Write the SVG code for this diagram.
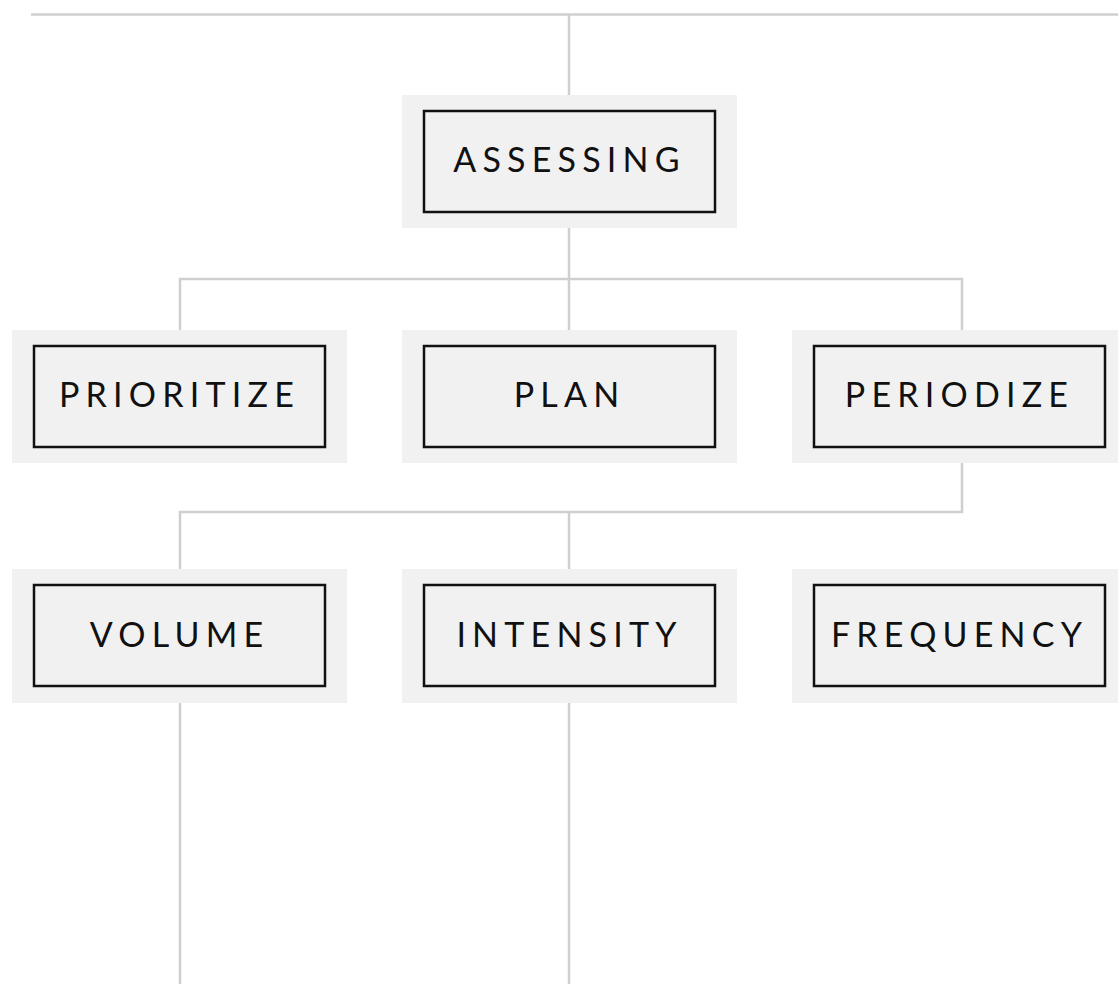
<svg xmlns="http://www.w3.org/2000/svg" width="1118" height="984" viewBox="0 0 1118 984">
<style>
.bg{fill:#f1f1f1}
.box{fill:#f1f1f1;stroke:#111;stroke-width:2.5}
.lbl{font-family:Lato,"Liberation Sans",sans-serif;font-size:34px;letter-spacing:6.2px;fill:#111;text-anchor:middle}
.con{fill:none;stroke:#cfcfcf;stroke-width:2.5}
</style>
<rect width="1118" height="984" fill="#fff"/>
<g id="connectors">
<path class="con" d="M31 14.5H1118M569 14.5V95"/>
<path class="con" d="M569 228V279M180 330V279H962V330M569 279V330"/>
<path class="con" d="M962 463V512H180V569M569 512V569"/>
<path class="con" d="M180 703V984M569 703V984"/>
</g>
<g id="assessing"><rect class="bg" x="402" y="95" width="335" height="133"/><rect class="box" x="424" y="111" width="291" height="101"/><text class="lbl" x="569.5" y="172">ASSESSING</text></g>
<g id="prioritize"><rect class="bg" x="12" y="330" width="335" height="133"/><rect class="box" x="34" y="346" width="291" height="101"/><text class="lbl" x="179.5" y="407">PRIORITIZE</text></g>
<g id="plan"><rect class="bg" x="402" y="330" width="335" height="133"/><rect class="box" x="424" y="346" width="291" height="101"/><text class="lbl" x="569.5" y="407">PLAN</text></g>
<g id="periodize"><rect class="bg" x="792" y="330" width="326" height="133"/><rect class="box" x="814" y="346" width="291" height="101"/><text class="lbl" x="959.5" y="407">PERIODIZE</text></g>
<g id="volume"><rect class="bg" x="12" y="569" width="335" height="134"/><rect class="box" x="34" y="585" width="291" height="101"/><text class="lbl" x="179.5" y="646.5">VOLUME</text></g>
<g id="intensity"><rect class="bg" x="402" y="569" width="335" height="134"/><rect class="box" x="424" y="585" width="291" height="101"/><text class="lbl" x="569.5" y="646.5">INTENSITY</text></g>
<g id="frequency"><rect class="bg" x="792" y="569" width="326" height="134"/><rect class="box" x="814" y="585" width="291" height="101"/><text class="lbl" x="959.5" y="646.5">FREQUENCY</text></g>
</svg>
